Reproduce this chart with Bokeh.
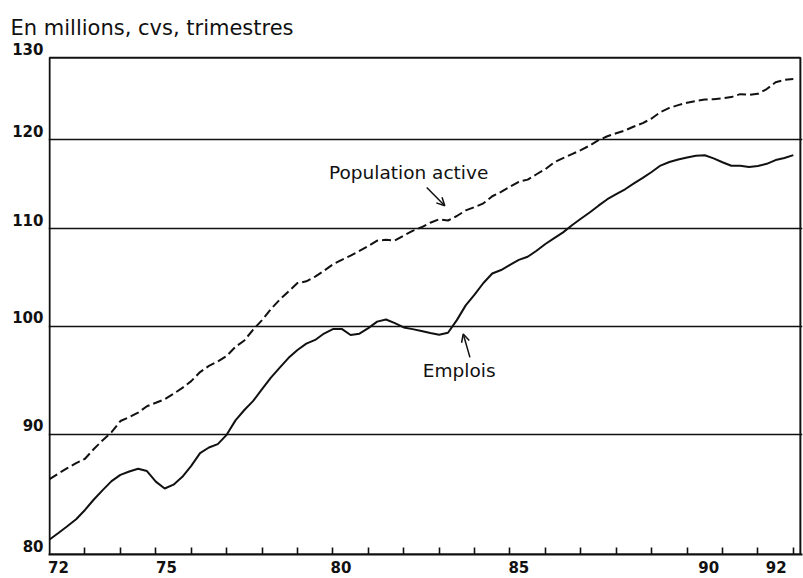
from bokeh.plotting import figure
from bokeh.models import Range1d, FixedTicker, Label, Arrow, OpenHead, BoxAnnotation
from bokeh.embed import file_html
from bokeh.resources import INLINE

# ---- data (quarterly, millions, seasonally adjusted) ----
quarters = [1972 + k / 4 for k in range(85)]
emplois = [81.18, 81.70, 82.24, 82.80, 83.56, 84.42, 85.20, 85.95, 86.48, 86.76,
           86.99, 86.80, 85.91, 85.33, 85.65, 86.31, 87.24, 88.34, 88.82, 89.11,
           89.93, 91.21, 92.14, 92.96, 94.04, 95.10, 96.03, 96.96, 97.71, 98.31,
           98.67, 99.29, 99.72, 99.74, 99.15, 99.28, 99.82, 100.45, 100.66, 100.31,
           99.88, 99.72, 99.53, 99.34, 99.18, 99.37, 100.60, 102.06, 103.13, 104.32,
           105.29, 105.65, 106.19, 106.70, 107.03, 107.66, 108.37, 108.99, 109.61, 110.37,
           111.08, 111.76, 112.51, 113.22, 113.78, 114.33, 114.99, 115.61, 116.28, 117.01,
           117.42, 117.71, 117.94, 118.13, 118.19, 117.83, 117.39, 116.99, 116.99, 116.85,
           116.95, 117.21, 117.64, 117.87, 118.21]
population_active = [86.12, 86.59, 87.05, 87.47, 87.85, 88.69, 89.46, 90.16, 91.15, 91.50,
                      91.90, 92.48, 92.79, 93.11, 93.61, 94.15, 94.78, 95.62, 96.20, 96.61,
                      97.13, 98.01, 98.62, 99.68, 100.60, 101.69, 102.64, 103.47, 104.31, 104.49,
                      104.97, 105.58, 106.24, 106.71, 107.14, 107.64, 108.17, 108.73, 108.82, 108.75,
                      109.27, 109.77, 110.16, 110.65, 111.02, 110.89, 111.38, 111.99, 112.35, 112.77,
                      113.55, 114.04, 114.61, 115.17, 115.41, 116.02, 116.60, 117.39, 117.87, 118.32,
                      118.79, 119.32, 119.95, 120.41, 120.77, 121.10, 121.56, 121.97, 122.52, 123.30,
                      123.79, 124.13, 124.42, 124.64, 124.81, 124.86, 124.95, 125.11, 125.47, 125.39,
                      125.51, 126.10, 126.93, 127.24, 127.33]

y_ticks = [80, 90, 100, 110, 120, 130]
y_tick_labels = ["80", "90", "100", "110", "120", "130"]
grid_levels = [90, 100, 110, 120]
year_ticks = list(range(1973, 1994))
year_labels = ["72", "75", "80", "85", "90", "92"]
year_label_pos = [1972.25, 1975.30, 1980.23, 1985.25, 1990.61, 1992.52]

title_text = "En millions, cvs, trimestres"
label_pop = "Population active"
label_emp = "Emplois"

INK = "#111111"
FONT = "DejaVu Sans"

# y tick labels sit just above their level (as in the original print):
# the frame is extended slightly above 130, and the chart box is drawn at 80..130
LIFT = 1.0088
Y_MIN, Y_MAX = 80, 130
X_MIN, X_MAX = 1972, 1993.2
label_ticks = [v * LIFT for v in y_ticks]

p = figure(width=803, height=578,
           x_range=Range1d(X_MIN - 0.03, X_MAX + 0.06),
           y_range=Range1d(Y_MIN, Y_MAX * LIFT * 1.0004),
           y_axis_type="log",
           output_backend="svg", toolbar_location=None,
           min_border_left=48, min_border_right=1,
           min_border_top=48, min_border_bottom=24)

p.background_fill_color = "white"
p.border_fill_color = "white"
p.outline_line_color = None

# chart box 80..130
p.add_layout(BoxAnnotation(left=X_MIN, right=X_MAX, bottom=Y_MIN, top=Y_MAX,
                           fill_alpha=0, line_color=INK, line_alpha=1.0, line_width=2))

p.line(quarters, emplois, line_color=INK, line_width=2)
p.line(quarters, population_active, line_color=INK, line_width=2, line_dash="9 4")

# grid
p.xgrid.visible = False
p.ygrid.ticker = FixedTicker(ticks=grid_levels)
p.ygrid.grid_line_color = INK
p.ygrid.grid_line_width = 1.3

# y axis (labels only)
ya = p.yaxis[0]
ya.ticker = FixedTicker(ticks=label_ticks)
ya.major_label_overrides = {t: lab for t, lab in zip(label_ticks, y_tick_labels)}
ya.major_tick_out = 0
ya.major_tick_in = 0
ya.minor_tick_out = 0
ya.minor_tick_in = 0
ya.axis_line_color = None
ya.major_label_standoff = 5
ya.major_label_text_font = FONT
ya.major_label_text_font_style = "bold"
ya.major_label_text_font_size = "15px"
ya.major_label_text_color = INK

# x axis
xa = p.xaxis[0]
xa.ticker = FixedTicker(ticks=year_label_pos, minor_ticks=year_ticks)
xa.major_label_overrides = {pos: lab for pos, lab in zip(year_label_pos, year_labels)}
xa.major_tick_out = 0
xa.major_tick_in = 0
xa.minor_tick_out = 0
xa.minor_tick_in = 7
xa.minor_tick_line_color = INK
xa.minor_tick_line_width = 1.6
xa.axis_line_color = INK
xa.axis_line_width = 2
xa.major_label_standoff = 6
xa.major_label_text_font = FONT
xa.major_label_text_font_style = "bold"
xa.major_label_text_font_size = "15px"
xa.major_label_text_color = INK

# title
p.title.text = title_text
p.title.align = "left"
p.title.offset = -38
p.title.standoff = 18
p.title.text_font = FONT
p.title.text_font_size = "21px"
p.title.text_font_style = "normal"
p.title.text_color = INK

# annotations
p.add_layout(Label(x=1979.89, y=116.19, text=label_pop, text_font=FONT,
                   text_font_size="18.5px", text_color=INK,
                   text_baseline="middle", text_align="left"))
p.add_layout(Arrow(end=OpenHead(size=8, line_color=INK, line_width=1.5),
                   x_start=1982.65, y_start=114.53, x_end=1983.16, y_end=112.50,
                   line_color=INK, line_width=1.5))

p.add_layout(Label(x=1982.54, y=95.75, text=label_emp, text_font=FONT,
                   text_font_size="18.5px", text_color=INK,
                   text_baseline="middle", text_align="left"))
p.add_layout(Arrow(end=OpenHead(size=8, line_color=INK, line_width=1.5),
                   x_start=1983.87, y_start=97.0, x_end=1983.68, y_end=99.25,
                   line_color=INK, line_width=1.5))

with open("out.html", "w") as f:
    f.write(file_html(p, INLINE))
